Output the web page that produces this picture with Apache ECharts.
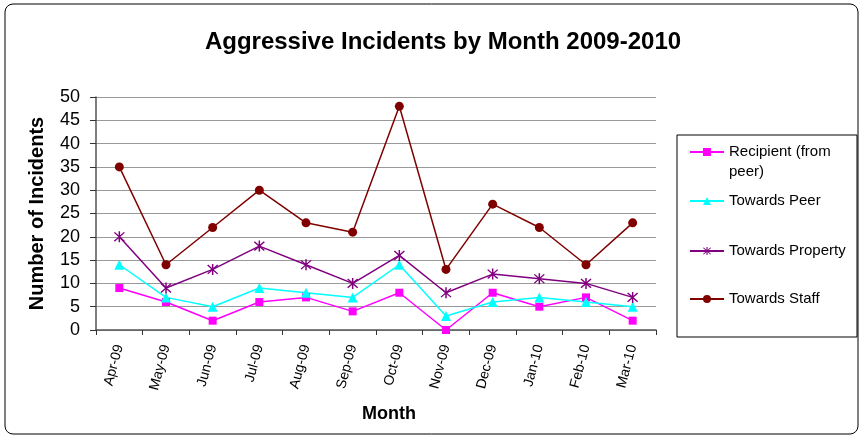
<!DOCTYPE html>
<html>
<head>
<meta charset="utf-8">
<script src="https://cdn.jsdelivr.net/npm/echarts@6/dist/echarts.min.js"></script>
<style>
  html, body { margin: 0; padding: 0; background: #fff; }
  #chart { width: 864px; height: 438px; }
</style>
</head>
<body>
<div id="chart"></div>
<script>
var months = ["Apr-09", "May-09", "Jun-09", "Jul-09", "Aug-09", "Sep-09", "Oct-09", "Nov-09", "Dec-09", "Jan-10", "Feb-10", "Mar-10"];
var recipient = [9, 6, 2, 6, 7, 4, 8, 0, 8, 5, 7, 2];
var towardsPeer = [14, 7, 5, 9, 8, 7, 14, 3, 6, 7, 6, 5];
var towardsProperty = [20, 9, 13, 18, 14, 10, 16, 8, 12, 11, 10, 7];
var towardsStaff = [35, 14, 22, 30, 23, 21, 48, 13, 27, 22, 14, 23];
var yTicks = [0, 5, 10, 15, 20, 25, 30, 35, 40, 45, 50];

var font = 'Arial, "Liberation Sans", sans-serif';
// asterisk marker (X plus vertical bar)
var asterisk = "path://M4.4 0L5.6 0L5.6 10L4.4 10Z M0.6 1.4L1.4 0.6L9.4 8.6L8.6 9.4Z M8.6 0.6L9.4 1.4L1.4 9.4L0.6 8.6Z";

var myChart = echarts.init(document.getElementById("chart"));

function legendAt(name, top) {
  return {
    data: [name],
    orient: "vertical",
    left: 689,
    top: top,
    padding: 0,
    itemWidth: 34,
    itemHeight: 10,
    textStyle: { fontFamily: font, fontSize: 15, color: "#000", lineHeight: 20 },
    formatter: function (n) {
      return n === "Recipient (from peer)" ? "\nRecipient (from\npeer)" : n;
    },
  };
}

myChart.setOption({
  backgroundColor: "#fff",
  animation: false,
  title: {
    text: "Aggressive Incidents by Month 2009-2010",
    left: 438,
    textAlign: "center",
    top: 25,
    textStyle: { fontFamily: font, fontSize: 24, fontWeight: "bold", color: "#000" },
  },
  graphic: [
    {
      type: "rect",
      shape: { x: 5, y: 4, width: 853, height: 430, r: 8 },
      style: { fill: null, stroke: "#000", lineWidth: 1 },
      silent: true,
    },
    {
      type: "rect",
      shape: { x: 677, y: 135, width: 180, height: 202 },
      style: { fill: null, stroke: "#000", lineWidth: 1 },
      silent: true,
    },
  ],
  legend: [
    legendAt("Recipient (from peer)", 122),
    legendAt("Towards Peer", 191),
    legendAt("Towards Property", 241),
    legendAt("Towards Staff", 289),
  ],
  grid: { left: 96, right: 208, top: 97, bottom: 108 },
  xAxis: {
    type: "category",
    data: months,
    boundaryGap: true,
    name: "Month",
    nameLocation: "middle",
    nameGap: 75,
    nameTextStyle: { fontFamily: font, fontSize: 18, fontWeight: "bold", color: "#000", padding: [0, 0, 0, 26] },
    axisLine: { lineStyle: { color: "#555", width: 1.5 } },
    axisTick: { show: true, length: 5, lineStyle: { color: "#333" } },
    axisLabel: { rotate: 75, fontFamily: font, fontSize: 14, color: "#000", margin: 15 },
  },
  yAxis: {
    type: "value",
    min: 0,
    max: 50,
    interval: 5,
    name: "Number of Incidents",
    nameLocation: "middle",
    nameGap: 49,
    nameTextStyle: { fontFamily: font, fontSize: 20, fontWeight: "bold", color: "#000" },
    axisLine: { show: true, lineStyle: { color: "#555", width: 1.5 } },
    axisTick: { show: true, length: 6, lineStyle: { color: "#333" } },
    axisLabel: {
      fontFamily: font,
      fontSize: 18,
      color: "#000",
      margin: 16,
      formatter: function (v) { return yTicks.indexOf(v) >= 0 ? String(v) : ""; },
    },
    splitLine: { show: true, lineStyle: { color: "#999", width: 1 } },
  },
  series: [
    {
      name: "Recipient (from peer)",
      type: "line",
      data: recipient,
      symbol: "rect",
      symbolSize: 8,
      itemStyle: { color: "#ff00ff" },
      lineStyle: { color: "#ff00ff", width: 1.5 },
    },
    {
      name: "Towards Peer",
      type: "line",
      data: towardsPeer,
      symbol: "triangle",
      symbolSize: 10,
      itemStyle: { color: "#00ffff" },
      lineStyle: { color: "#00ffff", width: 1.5 },
    },
    {
      name: "Towards Property",
      type: "line",
      data: towardsProperty,
      symbol: asterisk,
      symbolSize: 11,
      itemStyle: { color: "#800080" },
      lineStyle: { color: "#800080", width: 1.5 },
    },
    {
      name: "Towards Staff",
      type: "line",
      data: towardsStaff,
      symbol: "circle",
      symbolSize: 9,
      itemStyle: { color: "#800000" },
      lineStyle: { color: "#800000", width: 1.5 },
    },
  ],
});
</script>
</body>
</html>
